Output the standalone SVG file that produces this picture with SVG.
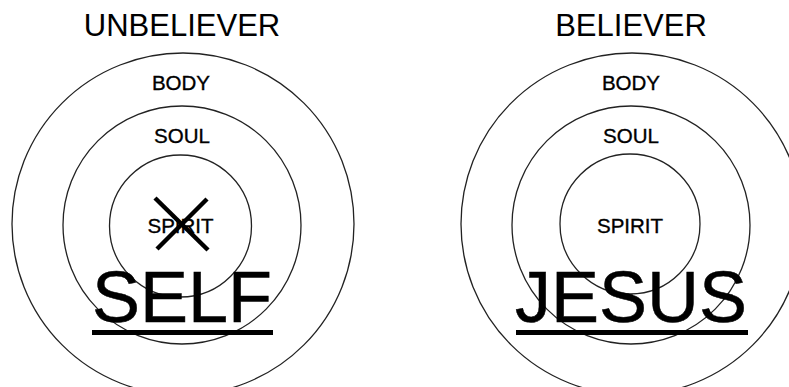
<svg xmlns="http://www.w3.org/2000/svg" width="789" height="387" viewBox="0 0 789 387">
<style>
.ring{fill:none;stroke:#222;stroke-width:1.3}
.t{font-family:"Liberation Sans",Arial,sans-serif;fill:#000;text-anchor:middle}
.title{font-size:31px}
.lbl{font-size:20.5px;stroke:#000;stroke-width:0.35}
.big{font-size:72px;stroke:#000;stroke-width:0.5}
.x{stroke:#000;stroke-width:4.5;stroke-linecap:butt}
</style>
<rect width="789" height="387" fill="#fff"/>
<g id="unbeliever">
<text class="t title" x="182" y="36">UNBELIEVER</text>
<g id="u-body"><circle class="ring" cx="183" cy="224" r="171"/><text class="t lbl" x="181" y="90">BODY</text></g>
<g id="u-soul"><circle class="ring" cx="182" cy="225" r="119"/><text class="t lbl" x="182" y="143">SOUL</text></g>
<g id="u-spirit"><circle class="ring" cx="180.5" cy="226" r="71"/><text class="t lbl" x="180.5" y="233">SPIRIT</text>
<line class="x" x1="155" y1="198" x2="208" y2="250"/><line class="x" x1="207" y1="199" x2="157" y2="249"/></g>
<g id="u-self"><text class="t big" x="182" y="322">SELF</text><rect x="92" y="330" width="181" height="5" fill="#000"/></g>
</g>
<g id="believer">
<text class="t title" x="631" y="36">BELIEVER</text>
<g id="b-body"><circle class="ring" cx="632" cy="224" r="171"/><text class="t lbl" x="631" y="90">BODY</text></g>
<g id="b-soul"><circle class="ring" cx="631" cy="225" r="119"/><text class="t lbl" x="631" y="143">SOUL</text></g>
<g id="b-spirit"><circle class="ring" cx="630" cy="224" r="70"/><text class="t lbl" x="630" y="233">SPIRIT</text></g>
<g id="b-jesus"><text class="t big" x="631" y="322">JESUS</text><rect x="516" y="330" width="232" height="5" fill="#000"/></g>
</g>
<g id="connectors"/>
</svg>
